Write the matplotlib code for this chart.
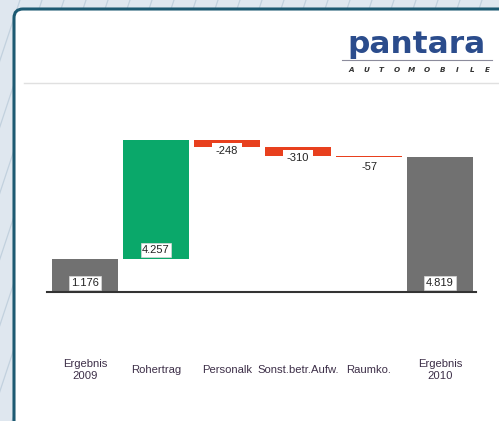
import matplotlib.pyplot as plt
from matplotlib.patches import FancyBboxPatch
import numpy as np

# Daten (Tsd. EUR)
kategorien = ["Ergebnis\n2009", "Rohertrag", "Personalk", "Sonst.betr.Aufw.", "Raumko.", "Ergebnis\n2010"]
werte = [1176, 4257, -248, -310, -57, 4819]
beschriftung = ["1.176", "4.257", "-248", "-310", "-57", "4.819"]
typ = ["summe", "plus", "minus", "minus", "minus", "summe"]

farben = {"summe": "#717171", "plus": "#0aa86a", "minus": "#e8401e"}

plt.rcParams['font.family'] = ['Liberation Sans', 'DejaVu Sans']

fig = plt.figure(figsize=(4.99, 4.21), dpi=100)
fig.patch.set_facecolor("#dfe7ef")

# Hintergrund in Pixelkoordinaten
bg = fig.add_axes([0, 0, 1, 1])
bg.set_xlim(0, 499)
bg.set_ylim(421, 0)
bg.axis("off")
for x0 in np.arange(-200, 560, 22):
    bg.plot([x0, x0 - 140], [0, 421], color="#c2d1de", lw=0.9, zorder=0)
panel = FancyBboxPatch((14, 9), 520, 440, boxstyle="round,pad=0,rounding_size=9",
                       facecolor="white", edgecolor="#1d5a72", lw=2.2, zorder=1)
bg.add_patch(panel)
bg.plot([24, 499], [83, 83], color="#e0e0e0", lw=1, zorder=2)

# Logo
bg.text(417, 53, "pantara", family="DejaVu Sans", fontweight="bold", fontsize=22.5,
        color="#2b4c8c", ha="center", va="baseline", zorder=3)
bg.plot([342, 492], [60, 60], color="#8c8c9c", lw=0.8, zorder=3)
for i, ch in enumerate("AUTOMOBILE"):
    bg.text(351 + i * 15.2, 70, ch, family="DejaVu Sans", fontweight="bold", style="italic",
            fontsize=5.2, color="#333333", ha="center", va="center", zorder=3)

# Wasserfall
ax = fig.add_axes([49.5 / 499, 1 - 292 / 421, 426 / 499, 167.9 / 421])
ax.set_facecolor("none")
ax.set_xlim(-0.5, 5.5)
ax.set_ylim(0, 6000)

kum = 0
for i, (w, t) in enumerate(zip(werte, typ)):
    if t == "summe":
        unten, hoehe = 0, w
        kum = w
    else:
        unten, hoehe = kum, w
        kum = kum + w
    ax.bar(i, hoehe, bottom=unten, width=0.93, color=farben[t], zorder=2)
    if t == "minus":
        ax.annotate(beschriftung[i], (i, unten), xytext=(0, -8.3), textcoords="offset points",
                    ha="center", va="center", fontsize=8, color="#222222",
                    bbox=dict(boxstyle="square,pad=0.3", facecolor="white", edgecolor="none"),
                    zorder=3)
    else:
        ax.annotate(beschriftung[i], (i, unten), xytext=(0, 6.5), textcoords="offset points",
                    ha="center", va="center", fontsize=8, color="#222222",
                    bbox=dict(boxstyle="square,pad=0.15", facecolor="white",
                              edgecolor="#d8d8d8", lw=0.5),
                    zorder=3)

ax.axhline(0, color="#333333", lw=1.5, zorder=4, xmin=-0.006, xmax=1.001, clip_on=False)
for s in ax.spines.values():
    s.set_visible(False)
ax.set_yticks([])
ax.set_xticks([])
for i, k in enumerate(kategorien):
    ax.text(i, -0.465, k, transform=ax.get_xaxis_transform(), ha="center", va="center",
            fontsize=8.1, color="#3d2f48", linespacing=1.35)

fig.savefig("out.png", dpi=100)
